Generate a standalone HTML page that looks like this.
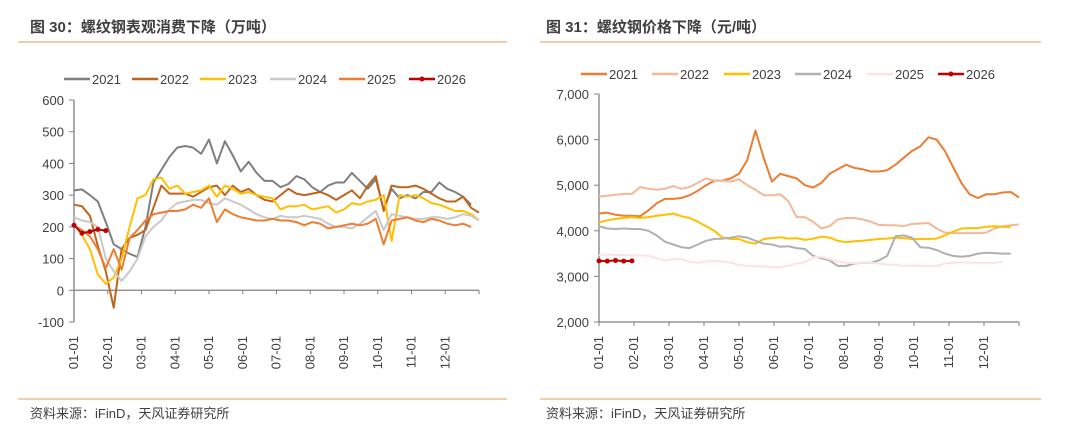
<!DOCTYPE html>
<html><head><meta charset="utf-8">
<style>
body{margin:0;background:#fff;width:1080px;height:428px;overflow:hidden;font-family:"Liberation Sans","Noto Sans CJK SC",sans-serif;}
svg{position:absolute;left:0;top:0}
</style></head>
<body>
<svg id="c" width="1080" height="428">
<text x="30" y="32" font-size="15" font-weight="bold" fill="#404040" font-family="Liberation Sans, Noto Sans CJK SC, sans-serif">图 30：螺纹钢表观消费下降（万吨）</text>
<line x1="18" y1="42" x2="507" y2="42" stroke="#e39b50" stroke-width="1"/>
<text x="546" y="32" font-size="15" font-weight="bold" fill="#404040" font-family="Liberation Sans, Noto Sans CJK SC, sans-serif">图 31：螺纹钢价格下降（元/吨）</text>
<line x1="540" y1="42" x2="1041" y2="42" stroke="#e39b50" stroke-width="1"/>
<line x1="18" y1="399" x2="507" y2="399" stroke="#e39b50" stroke-width="1"/>
<line x1="540" y1="399" x2="1041" y2="399" stroke="#e39b50" stroke-width="1"/>
<text x="30" y="418" font-size="13" fill="#404040" font-family="Liberation Sans, Noto Sans CJK SC, sans-serif">资料来源：iFinD，天风证券研究所</text>
<text x="546" y="418" font-size="13" fill="#404040" font-family="Liberation Sans, Noto Sans CJK SC, sans-serif">资料来源：iFinD，天风证券研究所</text>
</svg>
<script>
const months = ["01-01","02-01","03-01","04-01","05-01","06-01","07-01","08-01","09-01","10-01","11-01","12-01"];
const legendNames = ["2021","2022","2023","2024","2025","2026"];
const leftTicks = [600,500,400,300,200,100,0,-100];
const rightTicks = [7000,6000,5000,4000,3000,2000];
const cons2021 = [315,318,300,280,215,145,130,115,105,200,340,380,420,450,455,450,430,475,400,470,425,375,405,370,345,345,325,335,360,350,325,310,330,340,340,370,345,320,350,255,320,290,300,290,310,310,340,320,310,295,270];
const cons2022 = [270,265,235,140,60,-55,130,165,175,190,260,330,305,305,305,295,310,325,330,300,330,310,320,300,285,280,300,320,305,300,305,310,300,285,300,315,290,330,360,250,330,325,325,330,320,305,290,280,280,295,260,245];
const cons2023 = [210,175,130,50,20,40,100,200,290,300,350,355,320,330,305,310,315,330,295,330,320,305,310,300,295,290,255,265,265,270,255,260,265,245,255,275,270,280,285,300,155,300,295,300,290,275,270,260,250,250,240,220];
const cons2024 = [230,220,215,200,100,60,30,60,100,170,200,220,255,275,280,285,285,275,270,290,280,270,255,240,230,225,235,230,230,235,230,225,210,200,200,195,210,230,250,190,240,235,230,225,225,230,230,225,230,240,235,220];
const cons2025 = [205,190,170,130,70,130,65,165,190,220,240,245,250,250,255,270,260,290,215,255,240,230,225,220,220,225,220,220,215,205,215,210,195,200,205,210,205,210,225,145,220,225,230,220,215,225,220,210,205,210,200];
const cons2026 = [205,180,185,192,188];
const price2021 = [4380,4400,4350,4330,4330,4320,4450,4600,4700,4700,4720,4780,4880,5000,5100,5100,5150,5250,5550,6200,5600,5080,5250,5200,5150,5000,4950,5050,5250,5350,5450,5380,5350,5300,5300,5330,5450,5600,5750,5850,6050,6000,5750,5400,5050,4800,4720,4800,4800,4840,4850,4730];
const price2022 = [4750,4770,4790,4810,4810,4960,4920,4900,4920,4980,4920,4960,5050,5150,5100,5100,5080,5130,5000,4900,4780,4780,4800,4650,4300,4300,4200,4050,4100,4250,4280,4280,4250,4200,4130,4120,4120,4100,4150,4160,4170,4050,3960,3950,3950,3950,3950,3960,4050,4100,4120,4140];
const price2023 = [4180,4230,4260,4280,4300,4280,4300,4330,4350,4380,4320,4280,4200,4100,4000,3850,3820,3820,3750,3720,3820,3840,3860,3830,3840,3800,3830,3870,3850,3780,3750,3770,3780,3800,3820,3830,3850,3840,3820,3820,3820,3830,3900,3980,4050,4060,4060,4090,4100,4090,4080];
const price2024 = [4100,4050,4040,4050,4040,4040,4000,3900,3760,3700,3640,3620,3700,3780,3820,3830,3850,3880,3850,3780,3720,3700,3650,3660,3620,3600,3450,3400,3350,3230,3230,3280,3300,3300,3350,3450,3880,3900,3850,3640,3630,3580,3500,3450,3430,3450,3500,3520,3510,3500,3500];
const price2025 = [3470,3480,3470,3470,3460,3460,3450,3400,3350,3380,3380,3320,3300,3330,3340,3330,3300,3250,3230,3220,3220,3200,3200,3230,3280,3310,3420,3430,3380,3320,3300,3290,3300,3300,3280,3260,3250,3230,3240,3230,3220,3230,3280,3300,3310,3300,3300,3300,3300,3320];
const price2026 = [3340,3335,3350,3335,3340];

const NS="http://www.w3.org/2000/svg";
const svg=document.getElementById('c');
function mk(tag,attrs,parent){const e=document.createElementNS(NS,tag);for(const k in attrs)e.setAttribute(k,attrs[k]);(parent||svg).appendChild(e);return e;}

function chart(cfg){
  const g=mk('g',{});
  
  
  const x=i=>cfg.x0+i*(cfg.x1-cfg.x0)/51;
  const y=v=>cfg.yTop+(cfg.max-v)*(cfg.yBot-cfg.yTop)/(cfg.max-cfg.min);
  const ya=mk('line',{x1:cfg.x0,y1:y(cfg.max),x2:cfg.x0,y2:y(cfg.min),stroke:'#808080','stroke-width':1.3},g);
  
  
  cfg.ticks.forEach(t=>{
    const tk=mk('line',{x1:cfg.x0-5,y1:y(t),x2:cfg.x0,y2:y(t),stroke:'#808080'},g);
    
    
    const tl=mk('text',{x:cfg.x0-10,y:y(t)+5,'text-anchor':'end','font-size':13,fill:'#404040'},g);
    tl.textContent=cfg.fmt(t);
    
    
  });
  const xa=mk('line',{x1:cfg.x0,y1:y(cfg.base),x2:cfg.x1,y2:y(cfg.base),stroke:'#808080','stroke-width':1.3},g);
  
  
  const mstep=(cfg.x1-cfg.x0)/12;
  for(let m=0;m<=12;m++){
    const tk=mk('line',{x1:cfg.x0+m*mstep,y1:y(cfg.base),x2:cfg.x0+m*mstep,y2:y(cfg.base)+4,stroke:'#808080'},g);
    
    
  }
  months.forEach((mo,m)=>{
    const px=cfg.x0+m*mstep+4, py=cfg.labelY;
    const t=mk('text',{x:px,y:py,'text-anchor':'end','font-size':13,fill:'#404040',transform:`rotate(-90 ${px} ${py})`},g);
    t.textContent=mo;
    
    
  });
  cfg.series.forEach((s,si)=>{
    const pts=s.data.map((v,i)=>x(i).toFixed(1)+','+y(v).toFixed(1)).join(' ');
    const p=mk('polyline',{points:pts,fill:'none',stroke:s.color,'stroke-width':2,'stroke-linejoin':'round'},g);
    
    
    if(s.marker){s.data.forEach((v,i)=>{
      const c=mk('circle',{cx:x(i),cy:y(v),r:2.5,fill:s.color},g);
      
      
    });}
    const lx=cfg.legX[si];
    const ll=mk('line',{x1:lx,y1:cfg.legY,x2:lx+26,y2:cfg.legY,stroke:s.color,'stroke-width':2.5},g);
    
    
    if(s.marker){const c=mk('circle',{cx:lx+13,cy:cfg.legY,r:2.5,fill:s.color},g);
      
      }
    const lt=mk('text',{x:lx+28,y:cfg.legY+5,'font-size':13,fill:'#404040'},g);
    lt.textContent=legendNames[si];
    
    
  });
}
chart({name:'left-chart',x0:74,x1:479,yTop:100,yBot:322,max:600,min:-100,base:0,ticks:leftTicks,fmt:v=>String(v),labelY:336,
  legY:79,legX:[64,132,200,270,339,409],
  series:[{data:cons2021,color:'#7f7f7f'},{data:cons2022,color:'#c0641c'},{data:cons2023,color:'#ffc000'},{data:cons2024,color:'#c9c9c9'},{data:cons2025,color:'#ed7d31'},{data:cons2026,color:'#c00000',marker:true}]});
chart({name:'right-chart',x0:599,x1:1019,yTop:94,yBot:322,max:7000,min:2000,base:2000,ticks:rightTicks,fmt:v=>v.toLocaleString('en-US'),labelY:336,
  legY:74,legX:[581,652,724,795,867,938],
  series:[{data:price2021,color:'#ed7d31'},{data:price2022,color:'#f4b896'},{data:price2023,color:'#ffc000'},{data:price2024,color:'#b0b0b0'},{data:price2025,color:'#fbe3e3'},{data:price2026,color:'#c00000',marker:true}]});
</script>
</body></html>
